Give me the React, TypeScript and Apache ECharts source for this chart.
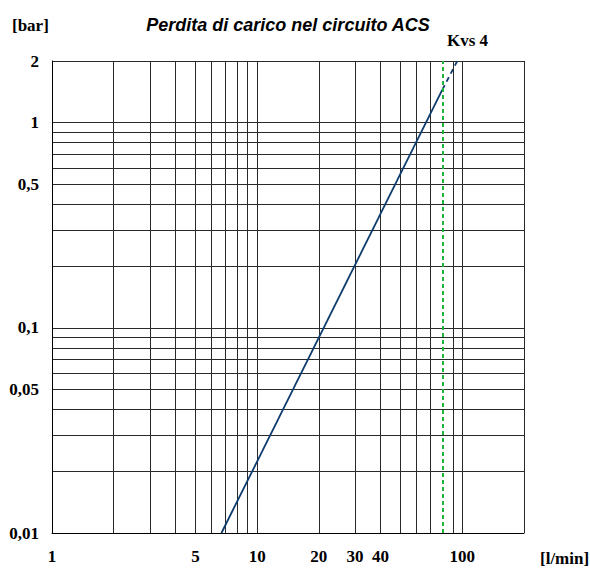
import React, { useEffect, useRef } from "react";
import * as echarts from "echarts";

const xGridValues = [1, 2, 3, 4, 5, 6, 7, 8, 9, 10, 20, 30, 40, 50, 60, 70, 90, 100, 200];
const yGridValues = [
  0.01, 0.02, 0.03, 0.04, 0.05, 0.06, 0.07, 0.08, 0.09,
  0.1, 0.2, 0.3, 0.4, 0.5, 0.6, 0.7, 0.8, 0.9, 1, 2,
];
const xLabelValues = [1, 5, 10, 20, 30, 40, 100];
const yLabelValues = [0.01, 0.05, 0.1, 0.5, 1, 2];

// Kvs 4 pressure-drop curve: [flow l/min, Δp bar]
const solidCurve = [
  [6.7, 0.01],
  [80, 1.45],
];
const dashedCurve = [
  [80, 1.45],
  [94.6, 2],
];
const kvsFlow = 80;

const serif = "'Liberation Serif', 'Times New Roman', serif";

export default function App() {
  const ref = useRef<HTMLDivElement>(null);

  useEffect(() => {
    document.body.style.margin = "0";
    document.body.style.overflow = "hidden";
    if (!ref.current) return;
    const chart = echarts.init(ref.current, null, { renderer: "svg" });
    const labelStyle = {
      fontFamily: serif,
      fontWeight: "bold" as const,
      fontSize: 17,
      color: "#000",
    };
    chart.setOption({
      animation: false,
      backgroundColor: "#fff",
      title: {
        text: "Perdita di carico nel circuito ACS",
        left: 283,
        top: 11,
        textAlign: "center",
        textStyle: {
          fontFamily: "'Liberation Sans', Arial, sans-serif",
          fontStyle: "italic",
          fontWeight: "bold",
          fontSize: 18,
          color: "#000",
        },
      },
      grid: { left: 52, right: 66, top: 61, bottom: 36 },
      xAxis: {
        type: "log",
        logBase: 10,
        min: 1,
        max: 200,
        axisLine: { show: true, lineStyle: { color: "#000", width: 1 } },
        axisTick: { show: false, customValues: xGridValues },
        axisLabel: { ...labelStyle, customValues: xLabelValues, margin: 15 },
        splitLine: { show: true, lineStyle: { color: "#2a2a2a", width: 1 } },
      },
      yAxis: {
        type: "log",
        logBase: 10,
        min: 0.01,
        max: 2,
        axisLine: { show: true, lineStyle: { color: "#000", width: 1 } },
        axisTick: { show: false, customValues: yGridValues },
        axisLabel: {
          ...labelStyle,
          customValues: yLabelValues,
          margin: 13,
          formatter: (v: number) => String(v).replace(".", ","),
        },
        splitLine: { show: true, lineStyle: { color: "#2a2a2a", width: 1 } },
      },
      series: [
        {
          type: "line",
          data: solidCurve,
          symbol: "none",
          lineStyle: { color: "#0d3b6e", width: 1.8 },
          markLine: {
            silent: true,
            symbol: "none",
            label: { show: false },
            lineStyle: { color: "#1db33c", width: 2, type: [4, 3] },
            data: [{ xAxis: kvsFlow }],
          },
        },
        {
          type: "line",
          data: dashedCurve,
          symbol: "none",
          lineStyle: { color: "#0d3b6e", width: 1.8, type: [5, 4] },
        },
      ],
      graphic: [
        {
          type: "text",
          left: 12,
          top: 17,
          style: { text: "[bar]", font: `bold 17px ${serif}`, fill: "#000" },
        },
        {
          type: "text",
          left: 447,
          top: 32,
          style: { text: "Kvs 4", font: `bold 17px ${serif}`, fill: "#000" },
        },
        {
          type: "text",
          left: 540,
          top: 550,
          style: { text: "[l/min]", font: `bold 17px ${serif}`, fill: "#000" },
        },
      ],
    });
    return () => chart.dispose();
  }, []);

  return <div ref={ref} style={{ width: 590, height: 569 }} />;
}
